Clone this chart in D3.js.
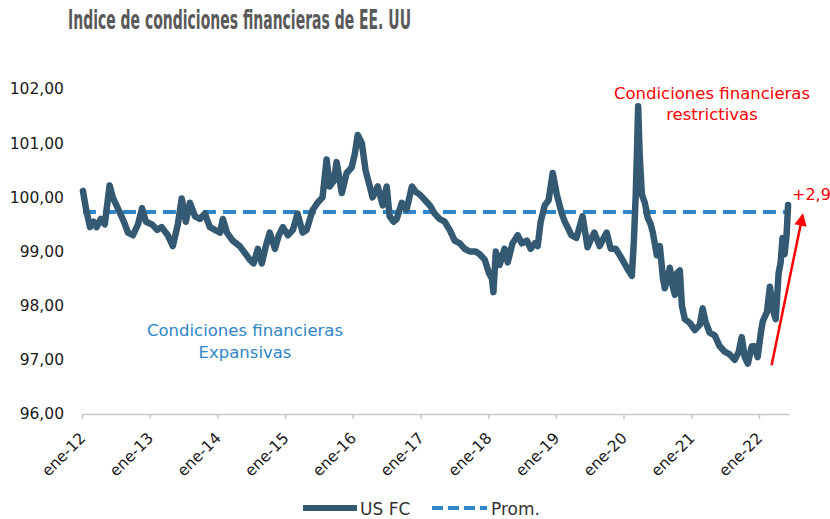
<!DOCTYPE html>
<html>
<head>
<meta charset="utf-8">
<script src="https://cdn.jsdelivr.net/npm/d3@7"></script>
<style>
  body { margin: 0; background: #fff; }
  text { font-family: "DejaVu Sans", sans-serif; }
</style>
</head>
<body>
<div id="chart"></div>
<script>
// US financial conditions index
const dates = [
  "2012-01-06","2012-01-22","2012-02-13","2012-03-04","2012-03-20","2012-04-11","2012-05-03","2012-05-29",
  "2012-06-15","2012-07-12","2012-08-14","2012-09-05","2012-10-02","2012-10-29","2012-11-20","2012-12-11",
  "2013-01-13","2013-02-09","2013-03-06","2013-04-08","2013-05-05","2013-06-01","2013-06-22","2013-07-14",
  "2013-08-05","2013-09-02","2013-09-28","2013-10-25","2013-11-21","2013-12-18","2014-01-15","2014-01-30",
  "2014-02-21","2014-03-24","2014-05-01","2014-06-03","2014-06-24","2014-07-15","2014-08-07","2014-08-28",
  "2014-09-19","2014-10-10","2014-11-07","2014-11-28","2014-12-20","2015-01-16","2015-02-12","2015-03-09",
  "2015-04-06","2015-04-27","2015-05-29","2015-06-25","2015-07-22","2015-08-13","2015-08-29","2015-09-20",
  "2015-10-06","2015-11-03","2015-11-29","2015-12-26","2016-01-12","2016-01-28","2016-02-19","2016-03-10",
  "2016-04-02","2016-04-17","2016-05-15","2016-06-11","2016-07-02","2016-07-18","2016-08-09","2016-08-25",
  "2016-09-22","2016-10-18","2016-11-15","2016-12-06","2016-12-28","2017-01-24","2017-02-20","2017-03-18",
  "2017-04-14","2017-05-11","2017-06-07","2017-07-04","2017-08-01","2017-08-27","2017-09-23","2017-10-25",
  "2017-11-16","2017-12-13","2018-01-05","2018-01-21","2018-01-29","2018-02-11","2018-03-03","2018-03-30",
  "2018-04-16","2018-05-12","2018-06-09","2018-07-01","2018-07-28","2018-08-18","2018-09-09","2018-09-25",
  "2018-10-11","2018-11-02","2018-11-23","2018-12-15","2019-01-06","2019-02-02","2019-02-18","2019-03-05",
  "2019-03-26","2019-04-22","2019-05-25","2019-06-21","2019-07-12","2019-07-28","2019-08-25","2019-09-16",
  "2019-10-02","2019-10-24","2019-11-20","2019-12-17","2020-01-19","2020-02-15","2020-02-26","2020-03-07",
  "2020-03-15","2020-03-20","2020-03-28","2020-04-09","2020-04-25","2020-05-11","2020-05-27","2020-06-07",
  "2020-06-29","2020-07-15","2020-08-01","2020-08-11","2020-09-07","2020-09-23","2020-10-04","2020-10-15",
  "2020-10-31","2020-11-11","2020-11-27","2020-12-24","2021-01-20","2021-02-16","2021-03-03","2021-03-19",
  "2021-04-10","2021-05-07","2021-06-03","2021-06-30","2021-07-27","2021-08-23","2021-09-14","2021-09-30",
  "2021-10-16","2021-11-02","2021-11-23","2021-12-09","2021-12-25","2022-01-11","2022-01-22","2022-02-13",
  "2022-03-01","2022-03-15","2022-04-01","2022-04-17","2022-04-28","2022-05-08","2022-05-19","2022-05-30",
  "2022-06-07"
];
const usfc = [
  100.12, 99.80, 99.45, 99.55, 99.45, 99.60, 99.50, 100.22,
  100.00, 99.80, 99.55, 99.35, 99.30, 99.50, 99.80, 99.55,
  99.50, 99.40, 99.45, 99.30, 99.10, 99.50, 99.98, 99.55,
  99.90, 99.65, 99.60, 99.70, 99.45, 99.40, 99.35, 99.60,
  99.35, 99.20, 99.10, 98.95, 98.85, 98.78, 99.05, 98.78,
  99.10, 99.35, 99.05, 99.30, 99.45, 99.30, 99.40, 99.70,
  99.35, 99.40, 99.76, 99.90, 100.00, 100.70, 100.20, 100.30,
  100.65, 100.08, 100.45, 100.55, 100.80, 101.15, 101.00, 100.50,
  100.20, 100.00, 100.20, 99.85, 100.20, 99.65, 99.55, 99.60,
  99.90, 99.78, 100.20, 100.10, 100.05, 99.95, 99.85, 99.70,
  99.60, 99.55, 99.40, 99.20, 99.15, 99.05, 99.00, 99.00,
  98.95, 98.85, 98.60, 98.50, 98.25, 99.00, 98.75, 99.05,
  98.80, 99.15, 99.30, 99.15, 99.20, 99.05, 99.15, 99.10,
  99.55, 99.85, 99.95, 100.45, 100.05, 99.70, 99.55, 99.45,
  99.30, 99.25, 99.65, 99.08, 99.25, 99.35, 99.10, 99.25,
  99.35, 99.05, 99.05, 98.90, 98.70, 98.55, 99.20, 100.05,
  101.00, 101.68, 100.80, 100.05, 99.90, 99.62, 99.50, 99.35,
  98.93, 99.10, 98.50, 98.32, 98.70, 98.35, 98.20, 98.60,
  98.65, 98.00, 97.75, 97.68, 97.55, 97.65, 97.95, 97.70,
  97.50, 97.45, 97.25, 97.15, 97.10, 97.00, 97.15, 97.42,
  97.05, 96.93, 97.25, 97.25, 97.05, 97.50, 97.72, 97.88,
  98.35, 97.95, 97.75, 98.60, 98.80, 99.25, 98.95, 99.30,
  99.86
];
const promedio = 99.73;
const yTicks = [96, 97, 98, 99, 100, 101, 102];
const tickYears = ["2012","2013","2014","2015","2016","2017","2018","2019","2020","2021","2022"];
const xStart = "2012-01-01", xEnd = "2022-06-12";
// red arrow from the 2021 low to the latest reading
const arrowFrom = ["2022-03-10", 96.90];
const arrowTo = ["2022-08-24", 99.66];

const parse = d3.timeParse("%Y-%m-%d");
const data = dates.map((d, i) => ({ date: parse(d), value: usfc[i] }));

const W = 830, H = 519;
const margin = { top: 89, right: 41, bottom: 105, left: 82 };
const width = W - margin.left - margin.right,
  height = H - margin.top - margin.bottom;

const svg = d3.select("#chart").append("svg")
  .attr("width", W)
  .attr("height", H);

const g = svg.append("g")
  .attr("transform", "translate(" + margin.left + "," + margin.top + ")");

const x = d3.scaleTime()
  .domain([parse(xStart), parse(xEnd)])
  .range([0, width]);

const y = d3.scaleLinear()
  .domain([96, 102])
  .range([height, 0]);

// Title
svg.append("text")
  .attr("x", 68)
  .attr("y", 29)
  .attr("textLength", 343)
  .attr("lengthAdjust", "spacingAndGlyphs")
  .style("font-family", "'DejaVu Sans Condensed', 'DejaVu Sans', sans-serif")
  .style("font-size", "27px")
  .style("font-weight", "bold")
  .style("fill", "#595959")
  .text("Indice de condiciones financieras de EE. UU");

// Y axis (labels only)
const yAxis = d3.axisLeft(y)
  .tickValues(yTicks)
  .tickSize(0)
  .tickPadding(18)
  .tickFormat(d => d3.format(".2f")(d).replace(".", ","));

g.append("g")
  .attr("class", "y-axis")
  .call(yAxis)
  .call(a => a.select(".domain").remove())
  .selectAll("text")
  .style("font-family", "'DejaVu Sans', sans-serif")
  .style("font-size", "15.5px")
  .style("fill", "#1a1a1a");

// X axis
const xAxis = d3.axisBottom(x)
  .tickValues(tickYears.map(yr => parse(yr + "-01-01")))
  .tickSize(5)
  .tickSizeOuter(0)
  .tickFormat(d => "ene-" + d3.timeFormat("%y")(d));

const xg = g.append("g")
  .attr("class", "x-axis")
  .attr("transform", "translate(0," + height + ")")
  .call(xAxis);

xg.select(".domain").attr("stroke", "#c8c8c8").attr("stroke-width", 1.5);
xg.selectAll(".tick line").attr("stroke", "#c8c8c8").attr("stroke-width", 1.5);
xg.selectAll(".tick text")
  .style("font-family", "'DejaVu Sans', sans-serif")
  .style("font-size", "15.5px")
  .style("fill", "#1a1a1a")
  .attr("text-anchor", "end")
  .attr("dy", null)
  .attr("y", 0)
  .attr("transform", "translate(4,25) rotate(-45)");

// Average line
g.append("line")
  .attr("x1", x(data[0].date))
  .attr("x2", x(parse(xEnd)))
  .attr("y1", y(promedio))
  .attr("y2", y(promedio))
  .attr("stroke", "#2e86c8")
  .attr("stroke-width", 4)
  .attr("stroke-dasharray", "13,7");

// Series
const line = d3.line()
  .x(d => x(d.date))
  .y(d => y(d.value));

g.append("path")
  .datum(data)
  .attr("fill", "none")
  .attr("stroke", "#345a73")
  .attr("stroke-width", 6.5)
  .attr("stroke-linejoin", "round")
  .attr("stroke-linecap", "round")
  .attr("d", line);

// Arrow
svg.append("defs").append("marker")
  .attr("id", "arrowhead")
  .attr("viewBox", "0 0 10 10")
  .attr("refX", 8)
  .attr("refY", 5)
  .attr("markerWidth", 5.5)
  .attr("markerHeight", 5)
  .attr("markerUnits", "strokeWidth")
  .attr("orient", "auto")
  .append("path")
  .attr("d", "M0,0 L10,5 L0,10 z")
  .attr("fill", "#ff0000");

g.append("line")
  .attr("x1", x(parse(arrowFrom[0])))
  .attr("y1", y(arrowFrom[1]))
  .attr("x2", x(parse(arrowTo[0])))
  .attr("y2", y(arrowTo[1]))
  .attr("stroke", "#ff0000")
  .attr("stroke-width", 2.5)
  .attr("marker-end", "url(#arrowhead)");

// Annotations
svg.append("text")
  .attr("x", 792)
  .attr("y", 200)
  .style("font-size", "16px")
  .style("fill", "#ff0000")
  .text("+2,9");

const red = svg.append("text")
  .attr("text-anchor", "middle")
  .style("font-size", "16.5px")
  .style("fill", "#ff0000");
red.append("tspan").attr("x", 712).attr("y", 99).text("Condiciones financieras");
red.append("tspan").attr("x", 712).attr("y", 120).text("restrictivas");

const blue = svg.append("text")
  .attr("text-anchor", "middle")
  .style("font-size", "16.5px")
  .style("fill", "#2e86c8");
blue.append("tspan").attr("x", 245).attr("y", 336).text("Condiciones financieras");
blue.append("tspan").attr("x", 245).attr("y", 358).text("Expansivas");

// Legend
const legend = svg.append("g").attr("class", "legend");
legend.append("line")
  .attr("x1", 303).attr("x2", 357)
  .attr("y1", 508).attr("y2", 508)
  .attr("stroke", "#345a73")
  .attr("stroke-width", 6);
legend.append("text")
  .attr("x", 360).attr("y", 515)
  .style("font-size", "17px")
  .style("fill", "#333333")
  .text("US FC");
legend.append("line")
  .attr("x1", 432).attr("x2", 487)
  .attr("y1", 508).attr("y2", 508)
  .attr("stroke", "#2e86c8")
  .attr("stroke-width", 4)
  .attr("stroke-dasharray", "11,5");
legend.append("text")
  .attr("x", 491).attr("y", 515)
  .style("font-size", "17px")
  .style("fill", "#333333")
  .text("Prom.");
</script>
</body>
</html>
